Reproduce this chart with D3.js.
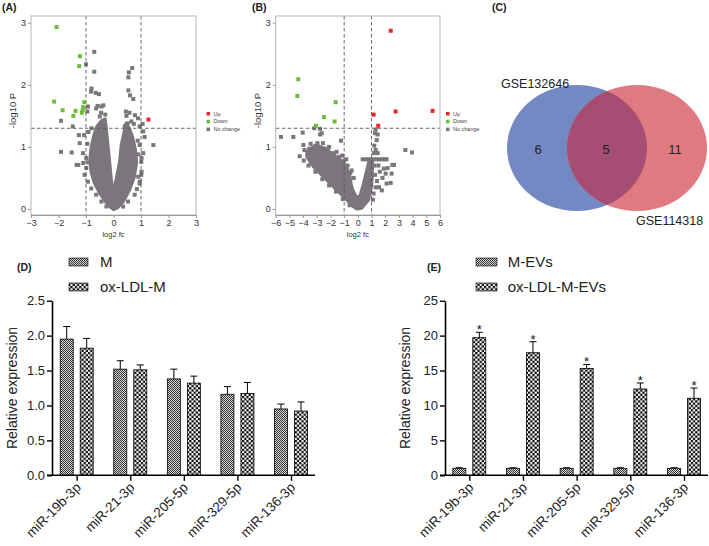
<!DOCTYPE html>
<html><head><meta charset="utf-8">
<script src="https://cdn.jsdelivr.net/npm/d3@7"></script>
<style>body{margin:0;background:#fff}svg{display:block;font-family:Arial,"Liberation Sans",sans-serif}</style>
</head><body><svg id="chart" width="709" height="546"></svg>
<script>
// ---------------- DATA ----------------
const volcanoLegend = ["Up", "Down", "No change"];
const aTicksX = [-3, -2, -1, 0, 1, 2, 3];
const bTicksX = [-6, -5, -4, -3, -2, -1, 0, 1, 2, 3, 4, 5, 6];
const volTicksY = [0, 1, 2, 3];
const fcCut = [-1, 1];
const pCut = 1.3;

const aUp = [[1.27, 1.44]];
const aDown = [[-2.07, 2.93], [-1.22, 2.46], [-1.25, 2.30], [-2.16, 1.73], [-1.85, 1.59], [-1.38, 1.58], [-1.46, 1.50], [-1.06, 1.72], [-1.10, 1.64], [-1.12, 1.59], [-1.15, 1.55]];
const aNoChange = [
 [-0.70,2.53],[-1.00,2.33],[-0.70,2.21],[0.68,2.27],[0.56,2.20],[0.54,2.12],
 [-0.80,1.94],[-0.65,1.87],[-0.53,1.85],[-0.82,1.89],[0.54,1.91],[0.60,1.83],[0.72,1.77],
 [-0.58,1.66],[-0.37,1.67],[-0.44,1.65],[-0.63,1.62],[-0.93,1.65],[-0.95,1.57],[-0.50,1.49],[-0.38,1.35],[-0.56,1.33],[-0.45,1.55],[-0.30,1.52],
 [0.45,1.57],[0.58,1.55],[0.47,1.50],[0.65,1.41],[0.89,1.46],[0.95,1.33],[0.41,1.33],[0.78,1.51],[0.52,1.38],[0.74,1.37],
 [-1.91,1.42],[-1.48,1.33],[-1.26,1.19],[-1.07,1.19],[-0.91,1.24],[-0.80,1.30],
 [1.08,1.25],[1.06,1.37],[1.13,1.16],[0.95,1.03],[1.45,1.03],
 [-1.91,0.92],[-1.52,0.91],[-1.34,0.71],[-1.28,0.71],[-1.10,0.74],
 [-1.23,1.06],[-1.11,0.90],[-0.99,0.82],[-0.99,0.66],[-1.05,0.55],[-0.93,0.44],[-0.81,0.33],[-0.63,0.23],[-0.44,0.12],[-0.26,0.04],[-0.95,1.05],[-0.92,0.75],
 [1.01,0.76],[1.01,0.55],[0.95,0.41],[1.08,0.90],[1.02,0.82],[1.02,0.60],[0.90,0.52],[0.96,0.44],[0.90,0.88],[0.88,1.10],[0.77,0.23],[0.53,0.12],[0.35,0.04],[0.85,0.32]
];
// outline of the dense (overplotted) cloud of unchanged miRNAs
const aCore = [[-0.30,1.45],[-0.45,1.42],[-0.62,1.32],[-0.72,1.18],[-0.82,0.98],[-0.86,0.80],[-0.82,0.60],[-0.70,0.42],[-0.50,0.25],[-0.30,0.12],[-0.12,0.03],[0.00,-0.01],[0.15,0.02],[0.36,0.12],[0.58,0.30],[0.76,0.52],[0.84,0.75],[0.80,0.95],[0.70,1.15],[0.58,1.30],[0.45,1.38],[0.41,1.30],[0.28,1.03],[0.22,0.76],[0.10,0.49],[0.03,0.35],[-0.04,0.35],[-0.08,0.49],[-0.14,0.76],[-0.20,1.03],[-0.26,1.30]];

const bUp = [[2.40, 2.87], [2.76, 1.57], [5.46, 1.58], [1.15, 1.52], [1.49, 1.34]];
const bDown = [[-4.35, 2.09], [-4.42, 1.82], [-1.62, 1.72], [-2.48, 1.48], [-1.70, 1.41], [-3.06, 1.34]];
const bNoChange = [
 [-5.61,1.16],[-4.71,1.16],[-4.03,1.23],[-3.98,1.03],[-3.18,1.30],[-2.76,1.29],[-2.64,1.22],[-2.76,1.20],[-1.23,1.10],
 [-4.25,0.85],[-3.55,0.97],[-2.95,1.06],[-2.20,0.97],[-1.75,0.90],[-1.35,0.84],[-1.00,0.78],[-0.75,0.70],[-0.55,0.58],
 [-3.90,0.95],[-3.45,1.05],[-2.55,1.06],[-2.10,1.00],[-1.55,0.92],[-1.15,0.86],[-0.85,0.80],[-0.45,0.62],[-0.30,0.50],
 [-3.95,0.78],[-3.60,0.70],[-3.10,0.60],[-2.60,0.48],[-2.10,0.38],[-1.60,0.28],[-1.10,0.16],[-0.60,0.06],
 [1.38,1.11],[1.25,1.22],[1.30,1.28],[1.45,1.20],[1.20,1.02],[1.30,0.95],[1.18,0.90],[1.45,0.90],
 [0.35,0.80],[0.55,0.80],[0.75,0.80],[0.95,0.80],[1.15,0.80],[1.35,0.80],[1.55,0.80],[1.75,0.80],[1.95,0.80],[2.10,0.80],
 [3.47,0.95],[3.95,0.91],[2.64,0.71],[2.52,0.71],[2.18,0.66],[1.90,0.65],[2.03,0.57],[2.47,0.57],[2.40,0.42],[2.10,0.41],[1.80,0.50],[1.60,0.60],[1.50,0.70],[1.40,0.45],[1.30,0.35],[1.55,0.35],[1.25,0.55],[1.20,0.70],[1.15,0.25],[1.10,0.15],[1.75,0.30]
];
const bCore = [[-3.73,0.92],[-3.13,1.03],[-2.40,0.98],[-1.91,0.90],[-1.43,0.82],[-1.06,0.74],[-0.82,0.68],[-0.57,0.52],[-0.45,0.36],[-0.25,0.25],[-0.05,0.18],[0.16,0.22],[0.40,0.40],[0.65,0.63],[0.84,0.80],[1.08,0.80],[1.05,0.50],[1.00,0.36],[0.77,0.14],[0.28,0.01],[-0.09,0.00],[-0.45,0.06],[-1.06,0.20],[-1.79,0.36],[-2.52,0.52],[-3.25,0.68],[-3.73,0.84]];

const vennSets = ["GSE132646", "GSE114318"];
const vennCounts = [6, 5, 11]; // only first, shared, only second

const mirnas = ["miR-19b-3p", "miR-21-3p", "miR-205-5p", "miR-329-5p", "miR-136-3p"];
const dSeries = ["M", "ox-LDL-M"];
const dM = [1.95, 1.52, 1.38, 1.16, 0.95];
const dMErr = [0.18, 0.12, 0.14, 0.11, 0.07];
const dOx = [1.82, 1.51, 1.32, 1.17, 0.92];
const dOxErr = [0.14, 0.07, 0.10, 0.16, 0.13];
const dTicks = [0, 0.5, 1.0, 1.5, 2.0, 2.5];

const eSeries = ["M-EVs", "ox-LDL-M-EVs"];
const eM = [1.0, 1.0, 1.0, 1.0, 1.0];
const eMErr = [0.08, 0.08, 0.08, 0.08, 0.08];
const eOx = [19.7, 17.55, 15.3, 12.36, 11.03];
const eOxErr = [0.78, 1.58, 0.57, 0.86, 1.47];
const eTicks = [0, 5, 10, 15, 20, 25];
const eSig = ["*", "*", "*", "*", "*"];

// ---------------- DRAW ----------------
const FONT = "Arial,'Liberation Sans',sans-serif";
const svg = d3.select("#chart");
const defs = svg.append("defs");

const pFine = defs.append("pattern").attr("id", "pFine").attr("width", 2).attr("height", 2).attr("patternUnits", "userSpaceOnUse");
pFine.append("rect").attr("width", 2).attr("height", 2).attr("fill", "#d8d8d8");
pFine.append("rect").attr("width", 1).attr("height", 1).attr("fill", "#333");
pFine.append("rect").attr("x", 1).attr("y", 1).attr("width", 1).attr("height", 1).attr("fill", "#333");
const pCheck = defs.append("pattern").attr("id", "pCheck").attr("width", 4.4).attr("height", 4.4).attr("patternUnits", "userSpaceOnUse");
pCheck.append("rect").attr("width", 4.4).attr("height", 4.4).attr("fill", "#fff");
pCheck.append("rect").attr("width", 2.2).attr("height", 2.2).attr("fill", "#000");
pCheck.append("rect").attr("x", 2.2).attr("y", 2.2).attr("width", 2.2).attr("height", 2.2).attr("fill", "#000");

const COL_UP = "#e8262b", COL_DOWN = "#69bd3c", COL_NC = "#7b767c";

function panelLabel(t, x, y) {
  svg.append("text").attr("x", x).attr("y", y).attr("font-size", 10.5).attr("font-weight", "bold").attr("fill", "#222").text(t);
}

function volcano(o) {
  const g = svg.append("g");
  const x = d3.scaleLinear().domain(o.xDomain).range(o.xRange);
  const y = d3.scaleLinear().domain([0, 3]).range([209, 22.7]);
  const top = 16, bottom = 215;
  const clipId = "clip" + o.id;
  defs.append("clipPath").attr("id", clipId).append("rect")
    .attr("x", o.xRange[0]).attr("y", top).attr("width", o.xRange[1] - o.xRange[0]).attr("height", bottom - top);
  const inner = g.append("g").attr("clip-path", `url(#${clipId})`);
  inner.append("path").datum(o.core)
    .attr("d", d3.line().x(d => x(d[0])).y(d => y(d[1])).curve(d3.curveLinearClosed))
    .attr("fill", COL_NC).attr("stroke", COL_NC).attr("stroke-width", 3).attr("stroke-linejoin", "round");
  const s = 4;
  function pts(data, col) {
    inner.append("g").selectAll("rect").data(data).join("rect")
      .attr("x", d => x(d[0]) - s / 2).attr("y", d => y(d[1]) - s / 2)
      .attr("width", s).attr("height", s).attr("fill", col);
  }
  pts(o.nc, COL_NC);
  fcCut.forEach(v => inner.append("line").attr("x1", x(v)).attr("x2", x(v)).attr("y1", top).attr("y2", bottom)
    .attr("stroke", "#555").attr("stroke-width", 0.9).attr("stroke-dasharray", "3.5,2.5"));
  inner.append("line").attr("x1", o.xRange[0]).attr("x2", o.xRange[1]).attr("y1", y(pCut)).attr("y2", y(pCut))
    .attr("stroke", "#555").attr("stroke-width", 0.9).attr("stroke-dasharray", "3.5,2.5");
  pts(o.down, COL_DOWN);
  pts(o.up, COL_UP);
  g.append("rect").attr("x", o.xRange[0]).attr("y", top).attr("width", o.xRange[1] - o.xRange[0]).attr("height", bottom - top)
    .attr("fill", "none").attr("stroke", "#b5b5b5").attr("stroke-width", 1);
  const ax = g.append("g").attr("transform", `translate(0,${bottom})`)
    .call(d3.axisBottom(x).tickValues(o.ticksX).tickSize(3).tickSizeOuter(0).tickPadding(1.5).tickFormat(d3.format("d")));
  ax.select(".domain").attr("stroke", "#999");
  ax.selectAll(".tick line").attr("stroke", "#999");
  ax.selectAll("text").attr("font-size", 9).attr("fill", "#333").attr("font-family", FONT);
  const ay = g.append("g").attr("transform", `translate(${o.xRange[0]},0)`)
    .call(d3.axisLeft(y).tickValues(volTicksY).tickSize(3).tickSizeOuter(0).tickPadding(2).tickFormat(d3.format("d")));
  ay.select(".domain").remove();
  ay.selectAll(".tick line").attr("stroke", "#999");
  ay.selectAll("text").attr("font-size", 9).attr("fill", "#333").attr("font-family", FONT);
  g.append("text").attr("transform", `translate(${o.xRange[0] - 15},${(top + bottom) / 2 - 5}) rotate(-90)`)
    .attr("text-anchor", "middle").attr("font-size", 9.5).attr("fill", "#333").text("-log10 P");
  g.append("text").attr("x", x(0)).attr("y", 237).attr("text-anchor", "middle").attr("font-size", 7.5).attr("fill", "#333").text("log2 fc");
  const cols = [COL_UP, COL_DOWN, COL_NC];
  volcanoLegend.forEach((t, i) => {
    g.append("rect").attr("x", o.legX).attr("y", 112 + i * 7.8).attr("width", 3.5).attr("height", 3.5).attr("fill", cols[i]);
    g.append("text").attr("x", o.legX + 7).attr("y", 115.5 + i * 7.8).attr("font-size", 5.5).attr("fill", "#444").text(t);
  });
}

volcano({ id: "A", xDomain: [-3, 3], xRange: [31, 196], ticksX: aTicksX, core: aCore, nc: aNoChange, up: aUp, down: aDown, legX: 206.5 });
volcano({ id: "B", xDomain: [-6, 6], xRange: [275.7, 440], ticksX: bTicksX, core: bCore, nc: bNoChange, up: bUp, down: bDown, legX: 446 });
panelLabel("(A)", 2, 11);
panelLabel("(B)", 252, 11);
panelLabel("(C)", 492, 11);

// Venn
(function () {
  const g = svg.append("g");
  const cx1 = 577, cx2 = 637, cy = 148, rx = 70, ry = 63;
  g.append("ellipse").attr("cx", cx1).attr("cy", cy).attr("rx", rx).attr("ry", ry).attr("fill", "#7489c4");
  g.append("ellipse").attr("cx", cx2).attr("cy", cy).attr("rx", rx).attr("ry", ry).attr("fill", "#df7a83");
  defs.append("clipPath").attr("id", "vennClip").append("ellipse").attr("cx", cx1).attr("cy", cy).attr("rx", rx).attr("ry", ry);
  g.append("ellipse").attr("cx", cx2).attr("cy", cy).attr("rx", rx).attr("ry", ry).attr("fill", "#a54d72").attr("clip-path", "url(#vennClip)");
  const nx = [538, 606, 675];
  vennCounts.forEach((c, i) => g.append("text").attr("x", nx[i]).attr("y", 154).attr("text-anchor", "middle")
    .attr("font-size", 13).attr("fill", "#222").text(c));
  g.append("text").attr("x", 501).attr("y", 87.5).attr("font-size", 12.5).attr("fill", "#222").text(vennSets[0]);
  g.append("text").attr("x", 636).attr("y", 225).attr("font-size", 12.5).attr("fill", "#222").text(vennSets[1]);
})();

// Bar charts
function bars(o) {
  const g = svg.append("g");
  const y = d3.scaleLinear().domain(o.yDomain).range([475.3, 300.7]);
  const x = d3.scalePoint().domain(mirnas).range(o.xPts);
  const bw = 13;
  const series = [{ v: o.m, e: o.mErr, fill: "url(#pFine)", off: -16.5 }, { v: o.ox, e: o.oxErr, fill: "url(#pCheck)", off: 3.5 }];
  series.forEach(sr => {
    mirnas.forEach((k, i) => {
      const x0 = x(k) + sr.off, cx = x0 + bw / 2;
      const yt = y(sr.v[i]), ye = y(sr.v[i] + sr.e[i]);
      g.append("line").attr("x1", cx).attr("x2", cx).attr("y1", yt).attr("y2", ye).attr("stroke", "#000").attr("stroke-width", 1);
      g.append("line").attr("x1", cx - 3.5).attr("x2", cx + 3.5).attr("y1", ye).attr("y2", ye).attr("stroke", "#000").attr("stroke-width", 1);
      g.append("rect").attr("x", x0).attr("y", yt).attr("width", bw).attr("height", y(0) - yt)
        .attr("fill", sr.fill).attr("stroke", "#000").attr("stroke-width", 0.8);
    });
  });
  if (o.sig) {
    mirnas.forEach((k, i) => g.append("text").attr("x", x(k) + 3.5 + bw / 2).attr("y", y(o.ox[i] + o.oxErr[i]) + 2)
      .attr("text-anchor", "middle").attr("font-size", 13).attr("fill", "#111").text(o.sig[i]));
  }
  const ay = g.append("g").attr("transform", `translate(${o.axisX},0)`)
    .call(d3.axisLeft(y).tickValues(o.ticks).tickSize(5).tickSizeOuter(0).tickPadding(2).tickFormat(o.fmt));
  ay.select(".domain").attr("stroke", "#000").attr("stroke-width", 1.6);
  ay.selectAll(".tick line").attr("stroke", "#000").attr("stroke-width", 1.4);
  ay.selectAll("text").attr("font-size", 13).attr("fill", "#222").attr("font-family", FONT);
  g.append("line").attr("x1", o.axisX - 5).attr("x2", o.xEnd).attr("y1", y(0)).attr("y2", y(0)).attr("stroke", "#000").attr("stroke-width", 1.6);
  const ax = g.append("g").attr("transform", `translate(0,${y(0)})`)
    .call(d3.axisBottom(x).tickSize(5.5).tickSizeOuter(0));
  ax.select(".domain").remove();
  ax.selectAll(".tick line").attr("stroke", "#000").attr("stroke-width", 1.4);
  ax.selectAll(".tick text").remove();
  // rotated category labels (rotation about the anchor point)
  mirnas.forEach(k => {
    const px = x(k) + 5, py = y(0) + 13;
    g.append("text").attr("x", px).attr("y", py).attr("text-anchor", "end")
      .attr("transform", `rotate(-45 ${px} ${py})`)
      .attr("font-size", 13.5).attr("font-family", FONT).attr("fill", "#222").text(k);
  });
  g.append("text").attr("transform", `translate(${o.axisX - 35},388) rotate(-90)`).attr("text-anchor", "middle")
    .attr("font-size", 14).attr("fill", "#222").text("Relative expression");
  [["url(#pFine)", o.names[0], 262], ["url(#pCheck)", o.names[1], 287]].forEach(([f, t, cy]) => {
    g.append("rect").attr("x", o.legX).attr("y", cy - 4).attr("width", o.legW).attr("height", 8).attr("fill", f).attr("stroke", "#000").attr("stroke-width", 0.6);
    g.append("text").attr("x", o.legTx).attr("y", cy + 5.3).attr("font-size", 15).attr("fill", "#222").text(t);
  });
}
bars({ yDomain: [0, 2.5], xPts: [76.7, 291], axisX: 52, xEnd: 315, m: dM, mErr: dMErr, ox: dOx, oxErr: dOxErr,
  ticks: dTicks, fmt: d3.format(".1f"), names: dSeries, legX: 69, legW: 19, legTx: 100 });
bars({ yDomain: [0, 25], xPts: [469.3, 684], axisX: 445, xEnd: 708, m: eM, mErr: eMErr, ox: eOx, oxErr: eOxErr,
  ticks: eTicks, fmt: d3.format("d"), names: eSeries, legX: 476, legW: 21, legTx: 507.7, sig: eSig });
panelLabel("(D)", 17, 271);
panelLabel("(E)", 427, 271);
</script></body></html>
